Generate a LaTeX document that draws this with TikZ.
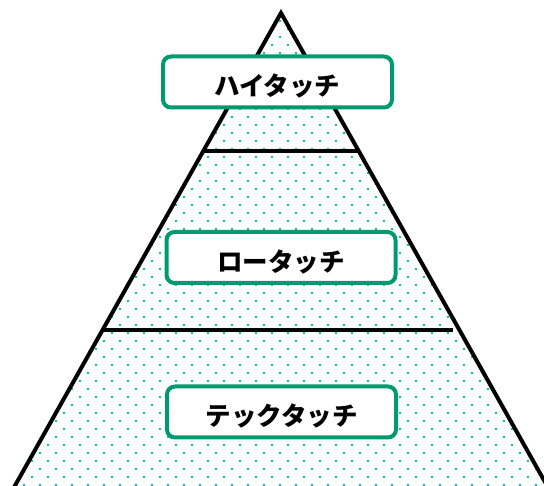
\documentclass[tikz,border=0pt]{standalone}
\usepackage{fontspec}
\newfontfamily\jpfont{Noto Sans CJK JP}
\definecolor{boxgreen}{RGB}{0,153,112}
\definecolor{dotgreen}{RGB}{0,204,153}
\tikzset{
  levelbox/.style={draw=boxgreen, line width=4pt, rounded corners=8pt, fill=white,
    minimum width=229pt, minimum height=51pt, inner sep=0pt,
    text height=28pt, text depth=0pt,
    font=\jpfont\bfseries\fontsize{25.5}{25.5}\selectfont, text=black},
  pyr/.style={line width=4pt, draw=black},
}
\begin{document}
\begin{tikzpicture}[x=1pt,y=-1pt]
\useasboundingbox (0,0) rectangle (544,486);
\clip (0,0) rectangle (544,486);
\coordinate (apex) at (281,13);
\coordinate (bl) at (-10,530);
\coordinate (br) at (572,530);
% dots
\begin{scope}
  \clip (apex) -- (bl) -- (br) -- cycle;
  \foreach \r in {0,...,61}{
    \pgfmathsetmacro{\yy}{4.8+8*\r}
    \pgfmathsetmacro{\off}{ifthenelse(mod(\r,2)==0,8,0)}
    \foreach \c in {0,...,34}{
      \fill[dotgreen] ({\c*16+\off-1},{\yy-1}) rectangle ++(2,2);
    }
  }
\end{scope}
% triangle
\draw[pyr, line join=miter] (bl) -- (apex) -- (br);
\coordinate (l1a) at (203,151);
\coordinate (l1b) at (358,151);
\coordinate (l2a) at (102,330);
\coordinate (l2b) at (453,330);
\draw[pyr] (l1a) -- (l1b);
\draw[pyr] (l2a) -- (l2b);
% boxes
\node[levelbox] (high) at (277.5,82) {ハイタッチ};
\node[levelbox] (low) at (281,257.5) {ロータッチ};
\node[levelbox] (tech) at (281.5,412) {テックタッチ};
\end{tikzpicture}
\end{document}
